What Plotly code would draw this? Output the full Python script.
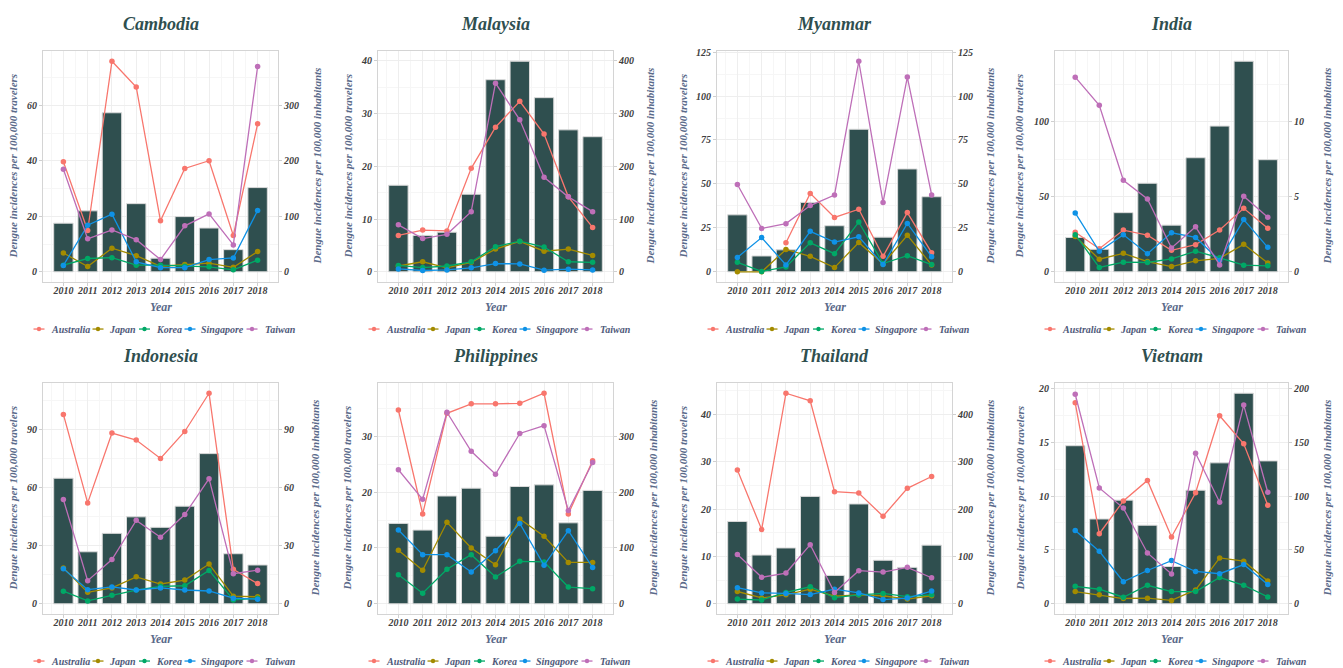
import plotly.graph_objects as go

# ---------------- DATA ----------------
years = [2010, 2011, 2012, 2013, 2014, 2015, 2016, 2017, 2018]
countries = ["Cambodia", "Malaysia", "Myanmar", "India",
             "Indonesia", "Philippines", "Thailand", "Vietnam"]
series_names = ["Australia", "Japan", "Korea", "Singapore", "Taiwan"]

# Dengue incidences per 100,000 travelers (lines, left axis)
cambodia_australia = [39.7, 14.9, 76.0, 66.7, 18.4, 37.3, 40.1, 13.1, 53.4]
cambodia_japan = [6.8, 1.9, 8.5, 5.8, 2.0, 2.6, 3.1, 1.6, 7.3]
cambodia_korea = [2.4, 4.8, 5.1, 2.4, 2.4, 2.0, 1.8, 0.7, 4.2]
cambodia_singapore = [2.3, 16.8, 20.8, 3.6, 1.5, 1.5, 4.4, 5.0, 22.1]
cambodia_taiwan = [37.0, 11.9, 15.1, 11.6, 4.4, 16.6, 20.9, 9.7, 74.1]

malaysia_australia = [6.9, 7.9, 7.75, 19.6, 27.4, 32.3, 26.1, 14.2, 8.4]
malaysia_japan = [1.1, 1.9, 0.75, 1.8, 4.3, 5.75, 3.9, 4.3, 3.1]
malaysia_korea = [1.2, 0.8, 1.1, 1.9, 4.75, 5.8, 4.7, 1.9, 1.8]
malaysia_singapore = [0.55, 0.25, 0.35, 0.75, 1.55, 1.5, 0.3, 0.5, 0.35]
malaysia_taiwan = [8.9, 6.3, 7.1, 11.4, 35.75, 28.8, 17.9, 14.2, 11.4]

myanmar_australia = [None, None, 16.5, 44.6, 30.9, 35.6, 8.8, 33.7, 10.9]
myanmar_japan = [0.0, 0.0, 12.7, 8.8, 2.4, 16.7, 4.5, 20.8, 3.9]
myanmar_korea = [5.4, 0.2, 2.8, 16.5, 10.3, 28.3, 4.7, 9.2, 4.1]
myanmar_singapore = [8.2, 19.5, 3.9, 23.0, 16.9, 19.9, 4.1, 27.5, 8.6]
myanmar_taiwan = [49.7, 24.7, 27.4, 37.7, 43.7, 119.8, 39.5, 110.8, 43.7]

india_australia = [26.4, 15.4, 27.8, 24.4, 14.3, 18.1, 27.8, 42.3, 29.1]
india_japan = [23.6, 8.4, 12.3, 6.8, 3.5, 7.3, 9.0, 18.3, 5.9]
india_korea = [24.7, 2.9, 6.4, 6.2, 8.6, 13.7, 9.3, 4.4, 4.0]
india_singapore = [39.2, 13.7, 24.7, 12.1, 26.0, 22.9, 7.5, 34.8, 16.3]
india_taiwan = [129.7, 111.0, 61.0, 48.5, 15.9, 30.0, 4.6, 50.4, 36.3]

indonesia_australia = [97.6, 52.0, 88.0, 84.4, 74.9, 88.8, 108.5, 17.8, 10.4]
indonesia_japan = [18.5, 5.9, 8.2, 13.9, 10.2, 12.2, 20.5, 3.9, 3.6]
indonesia_korea = [6.5, 1.5, 4.4, 7.1, 9.0, 9.3, 17.2, 2.0, 2.9]
indonesia_singapore = [18.0, 7.3, 8.7, 7.1, 8.2, 7.1, 6.6, 2.9, 2.4]
indonesia_taiwan = [53.7, 11.9, 22.8, 43.0, 34.3, 46.0, 64.5, 15.5, 17.3]

philippines_australia = [34.7, 16.1, 34.1, 35.8, 35.8, 35.9, 37.7, 16.1, 25.6]
philippines_japan = [9.6, 6.0, 14.6, 10.0, 7.0, 15.2, 12.1, 7.4, 7.4]
philippines_korea = [5.2, 1.9, 6.2, 8.8, 4.8, 7.6, 7.5, 3.0, 2.7]
philippines_singapore = [13.2, 8.8, 8.8, 5.7, 9.5, 14.4, 6.9, 13.1, 6.5]
philippines_taiwan = [24.0, 18.7, 34.3, 27.3, 23.2, 30.5, 31.9, 16.7, 25.3]

thailand_australia = [28.3, 15.7, 44.5, 42.9, 23.7, 23.4, 18.5, 24.4, 26.9]
thailand_japan = [2.6, 1.25, 1.9, 3.1, 1.6, 1.9, 1.7, 1.0, 1.7]
thailand_korea = [1.0, 0.8, 2.4, 3.6, 1.3, 1.9, 2.2, 1.5, 1.9]
thailand_singapore = [3.4, 2.3, 2.2, 1.95, 3.1, 2.3, 0.9, 1.2, 2.7]
thailand_taiwan = [10.4, 5.6, 6.5, 12.5, 2.4, 7.0, 6.7, 7.7, 5.5]

vietnam_australia = [18.65, 6.5, 9.55, 11.45, 6.2, 10.3, 17.45, 14.85, 9.15]
vietnam_japan = [1.13, 0.83, 0.49, 0.52, 0.31, 1.29, 4.26, 3.95, 2.11]
vietnam_korea = [1.62, 1.35, 0.61, 1.72, 1.13, 1.13, 2.45, 1.72, 0.64]
vietnam_singapore = [6.8, 4.87, 2.05, 3.09, 4.01, 3.0, 2.79, 3.64, 1.78]
vietnam_taiwan = [19.45, 10.75, 8.88, 4.72, 2.76, 13.97, 9.43, 18.44, 10.35]

# Dengue incidences per 100,000 inhabitants (bars, right axis)
cambodia_inhabitants = [87.7, 110, 287, 123, 24.5, 99.6, 79, 40, 152]
malaysia_inhabitants = [164, 69, 75, 147, 364, 399, 330, 269, 256]
myanmar_inhabitants = [32.4, 9.0, 12.5, 39.5, 26.2, 81.1, 19.7, 58.5, 42.7]
india_inhabitants = [2.29, 1.5, 3.94, 5.9, 3.11, 7.6, 9.71, 14.03, 7.47]
indonesia_inhabitants = [64.7, 26.8, 36.3, 44.8, 39.4, 50.3, 77.4, 25.8, 20.0]
philippines_inhabitants = [144, 132, 193, 207, 121, 210, 213, 145, 203]
thailand_inhabitants = [174, 103, 118, 227, 60, 211, 92, 77, 124]
vietnam_inhabitants = [146.7, 78.7, 96.2, 72.9, 34.6, 105.4, 130.8, 195.4, 132.6]

# secondary-axis scale (inhabitants per traveler unit) and left tick step
sec_factor = [5, 10, 1, 0.1, 1, 10, 10, 10]
left_dtick = [20, 10, 25, 50, 30, 10, 10, 5]

# ---------------- ASSEMBLY ----------------
g = globals()
lines_data = {c: [g[f"{c.lower()}_{s.lower()}"] for s in series_names] for c in countries}
bars_data = {c: g[f"{c.lower()}_inhabitants"] for c in countries}

colors = ["#F8766D", "#A38B00", "#00A866", "#0F92E6", "#BE6FB8"]
FONT = "Liberation Serif"
W, H = 1343, 668
col_x = [(43, 278), (378, 613), (717, 952), (1055, 1288)]
row_y = [(47, 280), (381, 614)]
title_y = [20, 354]
year_y = [305, 639]
legend_y = [327, 661]
left_title_off = [-30, -30, -34, -36, -30, -31, -34, -35]
right_title_off = [39, 37, 38, 39, 37, 40, 38, 39]
leg_key_off = [-121.5, -62.5, -16, 29.5, 91.5]
leg_text_off = [-111.5, -53.5, -6.5, 38.5, 102.5]

GRID = "#eeeeee"
GRID_MINOR = "#f6f6f6"
BORDER = "#d4d4d4"
TICKC = "#cfcfcf"
TICKFONT = dict(family=FONT, size=10, color="#404040", weight="bold", style="italic")
AXTITLE = "#5a6a8a"


def aid(p, n):
    return p if n == 1 else f"{p}{n}"


def lkey(p, n):
    return f"{p}axis" if n == 1 else f"{p}axis{n}"


def px(x):
    return x / W


def py(y):
    return 1 - y / H


fig = go.Figure()
layout = {}
annotations = []
shapes = []

for i, c in enumerate(countries):
    r, col = divmod(i, 4)
    x0, x1 = col_x[col]
    y0, y1 = row_y[r]
    xn = i + 1
    yb = 2 * i + 1
    yl = 2 * i + 2
    f = sec_factor[i]
    d = left_dtick[i]

    allvals = [v for s in lines_data[c] for v in s if v is not None] + [v / f for v in bars_data[c]]
    vmax = max(allvals)
    lo, hi = -0.05 * vmax, 1.05 * vmax

    fig.add_trace(go.Bar(
        x=years, y=bars_data[c], xaxis=aid("x", xn), yaxis=aid("y", yb),
        width=0.8, marker=dict(color="#2F4F4F", line=dict(color="#dadada", width=1)),
        showlegend=False, name=f"{c} inhabitants"))
    for s, vals, colr in zip(series_names, lines_data[c], colors):
        fig.add_trace(go.Scatter(
            x=years, y=vals, xaxis=aid("x", xn), yaxis=aid("y", yl),
            mode="lines+markers", line=dict(color=colr, width=1.3),
            marker=dict(color=colr, size=5.5), name=s, showlegend=False,
            connectgaps=False))

    layout[lkey("x", xn)] = dict(
        domain=[px(x0), px(x1)], anchor=aid("y", yb), range=[2009.16, 2018.84],
        tickmode="linear", tick0=2010, dtick=1, ticks="outside", ticklen=3,
        tickcolor=TICKC, tickfont=TICKFONT, ticklabelstandoff=-4,
        showline=True, mirror=True,
        linecolor=BORDER, linewidth=1, showgrid=True, gridcolor=GRID, gridwidth=1,
        minor=dict(tick0=2009.5, dtick=1, showgrid=True, gridcolor=GRID_MINOR, gridwidth=1),
        zeroline=False, fixedrange=True)
    layout[lkey("y", yb)] = dict(
        domain=[py(y1), py(y0)], anchor=aid("x", xn), side="right",
        range=[lo * f, hi * f], tickmode="linear", tick0=0, dtick=d * f,
        ticks="outside", ticklen=3, tickcolor=TICKC, tickfont=TICKFONT,
        showline=True, mirror=True, linecolor=BORDER, linewidth=1,
        showgrid=True, gridcolor=GRID, gridwidth=1,
        minor=dict(tick0=0, dtick=d * f / 2, showgrid=True, gridcolor=GRID_MINOR, gridwidth=1),
        zeroline=False, fixedrange=True)
    layout[lkey("y", yl)] = dict(
        overlaying=aid("y", yb), anchor=aid("x", xn), side="left",
        range=[lo, hi], tickmode="linear", tick0=0, dtick=d,
        ticks="outside", ticklen=3, tickcolor=TICKC, tickfont=TICKFONT,
        showline=False, showgrid=False, zeroline=False, fixedrange=True)

    cx = (x0 + x1) / 2
    cy = (y0 + y1) / 2
    annotations.append(dict(
        text=c, x=px(cx), y=py(title_y[r]), xref="paper", yref="paper",
        showarrow=False, xanchor="center", yanchor="middle",
        font=dict(family=FONT, size=18, color="#2F4F4F", weight="bold", style="italic")))
    annotations.append(dict(
        text="Dengue incidences per 100,000 travelers", x=px(x0 + left_title_off[i]),
        y=py(cy), xref="paper", yref="paper", showarrow=False, textangle=-90,
        xanchor="center", yanchor="middle",
        font=dict(family=FONT, size=11, color=AXTITLE, weight="bold", style="italic")))
    annotations.append(dict(
        text="Dengue incidences per 100,000 inhabitants", x=px(x1 + right_title_off[i]),
        y=py(cy), xref="paper", yref="paper", showarrow=False, textangle=-90,
        xanchor="center", yanchor="middle",
        font=dict(family=FONT, size=11, color=AXTITLE, weight="bold", style="italic")))
    annotations.append(dict(
        text="Year", x=px(cx), y=py(year_y[r]), xref="paper", yref="paper",
        showarrow=False, xanchor="center", yanchor="middle",
        font=dict(family=FONT, size=12, color=AXTITLE, weight="bold", style="italic")))

    # manual legend beneath each panel
    ly = legend_y[r]
    for s, colr, ko, to in zip(series_names, colors, leg_key_off, leg_text_off):
        kx = cx + ko
        shapes.append(dict(type="line", xref="paper", yref="paper",
                           x0=px(kx - 5.5), x1=px(kx + 5.5), y0=py(ly), y1=py(ly),
                           line=dict(color=colr, width=1.3)))
        shapes.append(dict(type="circle", xref="paper", yref="paper",
                           x0=px(kx - 2.2), x1=px(kx + 2.2), y0=py(ly + 2.2), y1=py(ly - 2.2),
                           fillcolor=colr, line=dict(color=colr, width=0)))
        annotations.append(dict(
            text=s, x=px(cx + to), y=py(ly), xref="paper", yref="paper",
            showarrow=False, xanchor="left", yanchor="middle",
            font=dict(family=FONT, size=10, color="#4f5a7a", weight="bold", style="italic")))

fig.update_layout(
    width=W, height=H, margin=dict(l=0, r=0, t=0, b=0),
    paper_bgcolor="white", plot_bgcolor="white",
    showlegend=False, annotations=annotations, shapes=shapes,
    barmode="overlay", **layout)

fig.write_html(
    "out.html",
    config={"displayModeBar": False},
    post_script="document.body.style.margin='0';document.body.style.padding='0';"
                "document.body.style.overflow='hidden';")
